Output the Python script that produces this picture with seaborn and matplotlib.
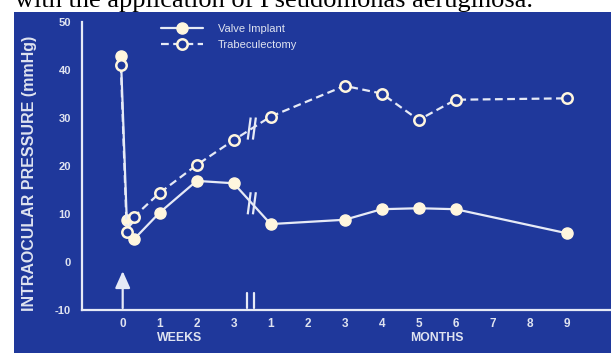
import numpy as np
import pandas as pd
import seaborn as sns
import matplotlib.pyplot as plt
from matplotlib.patches import Rectangle

# Follow-up times: preoperative / early days in weeks, then months
time_weeks = [-0.05, 0.11, 0.3, 1, 2, 3]
time_months = [1, 3, 4, 5, 6, 9]

valve_iop = [43, 8.7, 4.7, 10.3, 16.9, 16.4, 7.9, 8.8, 11.0, 11.2, 11.0, 6.0]
trab_iop = [41, 6.2, 9.4, 14.4, 20.2, 25.4, 30.3, 36.7, 35.1, 29.6, 33.8, 34.1]

week_ticks = [0, 1, 2, 3]
month_ticks = [1, 2, 3, 4, 5, 6, 7, 8, 9]
y_ticks = [-10, 0, 10, 20, 30, 40, 50]

series_names = ["Valve Implant", "Trabeculectomy"]

# Weeks and months share one axis: month m sits right after week 3
MONTH_OFFSET = 3
BREAK_POS = 3.49

positions = list(time_weeks) + [m + MONTH_OFFSET for m in time_months]
df = pd.DataFrame({
    "pos": positions * 2,
    "iop": valve_iop + trab_iop,
    "group": [series_names[0]] * len(valve_iop) + [series_names[1]] * len(trab_iop),
})

BLUE = "#1f389b"
CREAM = "#fff6de"
LINE = "#e6eaf6"
TXT = "#dfe3f0"

sns.set_theme(style="white")
plt.rcParams["font.family"] = ["Liberation Sans", "DejaVu Sans"]

fig = plt.figure(figsize=(6.11, 3.53), dpi=100, facecolor="white")
W, H = 611, 353

# caption line above the slide
fig.text(15 / W, 1 - 7 / H, "with the application of Pseudomonas aeruginosa.",
         family=["Liberation Serif", "DejaVu Serif"], fontsize=19,
         color="black", va="baseline", ha="left", zorder=0.5)
# slide background
fig.patches.append(Rectangle((14 / W, 0), 1, 1 - 12 / H, transform=fig.transFigure,
                             facecolor=BLUE, edgecolor="none", zorder=1))

ax = fig.add_axes([82 / W, 43 / H, (W - 82) / W, 288 / H], zorder=2)
ax.set_facecolor("none")

valve = df[df.group == series_names[0]]
trab = df[df.group == series_names[1]]

sns.lineplot(data=valve, x="pos", y="iop", sort=False, ax=ax, color=LINE,
             linewidth=1.6, marker="o", markersize=8, markerfacecolor=CREAM,
             markeredgecolor=CREAM, markeredgewidth=1, estimator=None,
             label=series_names[0], legend=False)
sns.lineplot(data=trab, x="pos", y="iop", sort=False, ax=ax, color=LINE,
             linewidth=1.6, linestyle=(0, (3.5, 2)), marker="o", markersize=7.5,
             markerfacecolor=BLUE, markeredgecolor=CREAM, markeredgewidth=1.8,
             estimator=None, label=series_names[1], legend=False)
series_lines = list(ax.get_lines())

# break marks on each series between week 3 and month 1
for vals in (valve_iop, trab_iop):
    yb = np.interp(BREAK_POS, positions, vals)
    for dx in (-0.07, 0.07):
        ax.plot([BREAK_POS + dx - 0.04, BREAK_POS + dx + 0.04], [yb - 2.3, yb + 2.3],
                color=LINE, lw=1.6, solid_capstyle="butt", zorder=4)
# break marks on the time axis
for dx in (-0.09, 0.09):
    ax.plot([BREAK_POS - 0.03 + dx, BREAK_POS - 0.03 + dx], [-9.6, -6.4],
            color=LINE, lw=1.6, clip_on=False, zorder=4)

# surgery arrow
ax.annotate("", xy=(0, -1.9), xytext=(0, -9.6),
            arrowprops=dict(arrowstyle="-|>,head_length=0.85,head_width=0.38",
                            color=LINE, lw=1.6, shrinkA=0, shrinkB=0))

ax.set_xlim(-1.1, 13.2)
ax.set_ylim(-10, 50)
ax.set_xticks(week_ticks + [m + MONTH_OFFSET for m in month_ticks])
ax.set_xticklabels([str(w) for w in week_ticks] + [str(m) for m in month_ticks])
ax.set_yticks(y_ticks)
ax.set_yticklabels([str(v) for v in y_ticks])
ax.set_xlabel("")
ax.set_ylabel("")

for side in ("top", "right"):
    ax.spines[side].set_visible(False)
for side in ("left", "bottom"):
    ax.spines[side].set_color(LINE)
    ax.spines[side].set_linewidth(1.6)

ax.tick_params(axis="x", direction="inout", length=6, width=1.6,
               colors=LINE, labelcolor=TXT, labelsize=8.5, pad=3)
ax.tick_params(axis="y", direction="out", length=5, width=1.6,
               colors=LINE, labelcolor=TXT, labelsize=8, pad=3)
for lab in ax.get_xticklabels() + ax.get_yticklabels():
    lab.set_fontweight("bold")

# time unit captions under the axis
ax.text(1.55, -15.9, "WEEKS", color=TXT, fontsize=8.8, fontweight="bold",
        ha="center", va="center")
ax.text(8.5, -15.9, "MONTHS", color=TXT, fontsize=8.8, fontweight="bold",
        ha="center", va="center")

fig.text(30 / W, 1 - 173 / H, "INTRAOCULAR PRESSURE (mmHg)", rotation=90,
         color=TXT, fontsize=11.5, fontweight="bold", ha="center", va="center",
         zorder=3)

leg = ax.legend(handles=series_lines, labels=series_names, loc="upper left",
                bbox_to_anchor=(161 / W, 1 - 24 / H), bbox_transform=fig.transFigure,
                frameon=False, fontsize=8, handlelength=3.8, handletextpad=1.3,
                labelspacing=0.5, borderpad=0, borderaxespad=0)
for t in leg.get_texts():
    t.set_color(TXT)

fig.savefig("out.png", dpi=100, facecolor="white")
